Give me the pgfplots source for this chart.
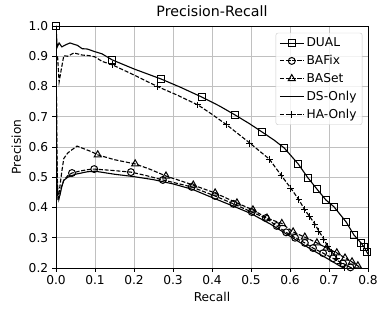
\documentclass[border=0pt]{standalone}
\usepackage{fontspec}
\setmainfont{DejaVu Sans}
\usepackage{pgfplots}
\usepackage{pgfplotstable}
\pgfplotsset{compat=1.18}
\usetikzlibrary{calc}

\pgfplotstableread{
x y m
0.000 1.000 1
0.003 0.930 0
0.008 0.944 0
0.015 0.931 0
0.025 0.938 0
0.036 0.944 0
0.045 0.940 0
0.055 0.936 0
0.067 0.925 0
0.080 0.924 0
0.100 0.915 0
0.118 0.908 0
0.144 0.888 1
0.200 0.858 0
0.269 0.825 1
0.320 0.797 0
0.374 0.765 1
0.420 0.735 0
0.459 0.706 1
0.495 0.678 0
0.528 0.650 1
0.560 0.622 0
0.585 0.597 1
0.621 0.544 1
0.646 0.498 1
0.669 0.461 1
0.692 0.425 1
0.713 0.402 1
0.744 0.352 1
0.764 0.309 1
0.782 0.283 1
0.790 0.269 1
0.797 0.253 1
0.805 0.235 0
}\dual

\pgfplotstableread{
x y m
0.000 1.000 0
0.002 0.550 0
0.005 0.440 0
0.008 0.430 0
0.012 0.460 0
0.020 0.490 0
0.030 0.505 0
0.041 0.514 1
0.060 0.520 0
0.080 0.525 0
0.098 0.527 1
0.140 0.523 0
0.192 0.517 1
0.230 0.506 0
0.274 0.491 1
0.310 0.480 0
0.348 0.468 1
0.408 0.438 1
0.455 0.412 1
0.502 0.385 1
0.538 0.365 1
0.566 0.339 1
0.590 0.318 1
0.613 0.300 1
0.638 0.283 1
0.659 0.266 1
0.685 0.249 1
0.710 0.232 1
0.736 0.215 1
0.755 0.202 1
0.765 0.195 0
}\bafix

\pgfplotstableread{
x y m
0.000 1.000 0
0.002 0.600 0
0.004 0.450 0
0.006 0.430 0
0.010 0.470 0
0.015 0.520 0
0.020 0.562 0
0.030 0.580 0
0.040 0.590 0
0.054 0.603 0
0.070 0.595 0
0.090 0.585 0
0.107 0.574 1
0.150 0.558 0
0.203 0.544 1
0.240 0.527 0
0.282 0.504 1
0.320 0.488 0
0.352 0.474 1
0.408 0.448 1
0.464 0.415 1
0.505 0.392 1
0.541 0.365 1
0.579 0.347 1
0.608 0.319 1
0.638 0.302 1
0.669 0.283 1
0.694 0.266 1
0.720 0.250 1
0.741 0.233 1
0.759 0.220 1
0.774 0.207 1
0.785 0.195 0
}\baset

\pgfplotstableread{
x y
0.000 1.000
0.002 0.500
0.005 0.430
0.010 0.440
0.015 0.470
0.020 0.490
0.030 0.500
0.050 0.510
0.080 0.518
0.100 0.520
0.150 0.510
0.200 0.502
0.250 0.492
0.300 0.478
0.350 0.460
0.400 0.433
0.450 0.407
0.500 0.380
0.550 0.345
0.600 0.305
0.650 0.265
0.700 0.228
0.730 0.205
0.740 0.198
}\dsonly

\pgfplotstableread{
x y m
0.004 0.900 0
0.008 0.815 0
0.014 0.860 0
0.020 0.902 0
0.030 0.900 0
0.046 0.911 0
0.067 0.904 0
0.085 0.902 0
0.100 0.898 0
0.118 0.883 0
0.144 0.872 1
0.200 0.838 0
0.260 0.800 1
0.310 0.772 0
0.364 0.739 1
0.400 0.708 0
0.438 0.673 1
0.497 0.613 1
0.547 0.560 1
0.577 0.507 1
0.602 0.464 1
0.623 0.425 1
0.638 0.392 1
0.651 0.369 1
0.664 0.345 1
0.674 0.322 1
0.687 0.295 1
0.697 0.271 1
0.707 0.253 1
0.720 0.233 1
0.730 0.215 1
0.740 0.200 1
0.750 0.185 0
}\haonly

\definecolor{gridgray}{RGB}{192,192,192}
\definecolor{legedge}{RGB}{204,204,204}

\begin{document}
\begin{tikzpicture}
\pgfplotsset{
  dualst/.style={black, line width=1pt, solid, mark=square, mark size=3.1pt, mark options={solid, fill=none, line width=0.9pt}},
  bafixst/.style={black, line width=1pt, dash pattern=on 3.7pt off 1.6pt, mark=o, mark size=3.1pt, mark options={solid, fill=none, line width=0.9pt}},
  basetst/.style={black, line width=1pt, dash pattern=on 3.7pt off 1.6pt, mark=triangle, mark size=3.7pt, mark options={solid, fill=none, line width=0.9pt}},
  dsst/.style={black, line width=1pt, solid},
  hast/.style={black, line width=1pt, dash pattern=on 3.7pt off 1.6pt, mark=+, mark size=3.1pt, mark options={solid, line width=0.9pt}},
}
\begin{axis}[
  name=ax,
  scale only axis,
  width=280.8pt, height=217.8pt,
  xmin=0, xmax=0.8, ymin=0.2, ymax=1.0,
  xtick={0,0.1,0.2,0.3,0.4,0.5,0.6,0.7,0.8},
  ytick={0.2,0.3,0.4,0.5,0.6,0.7,0.8,0.9,1.0},
  xticklabel style={/pgf/number format/.cd, fixed, fixed zerofill, precision=1},
  yticklabel style={/pgf/number format/.cd, fixed, fixed zerofill, precision=1},
  /pgf/number format/assume math mode=true,
  tick label style={font=\fontsize{11}{13}\selectfont},
  label style={font=\fontsize{11}{13}\selectfont},
  title style={font=\fontsize{12.8}{15}\selectfont, yshift=-1pt},
  title={Precision-Recall},
  xlabel={Recall}, ylabel={Precision},
  tick align=outside,
  major tick length=3.5pt,
  tick style={black, line width=0.8pt},
  xtick pos=bottom, ytick pos=left,
  axis line style={line width=0.8pt},
  grid=major,
  major grid style={gridgray, line width=0.8pt},
  clip mode=global,
  legend cell align=left,
  legend style={at={(rel axis cs:0.982,0.972)}, anchor=north east,
    font=\fontsize{11}{13}\selectfont, draw=legedge, fill=white, fill opacity=0.8, text opacity=1,
    rounded corners=2pt, row sep=2.2pt, inner xsep=3pt, inner ysep=2.5pt},
  legend image code/.code={\draw[mark repeat=2, mark phase=2] plot coordinates {(0cm,0cm) (0.38cm,0cm) (0.76cm,0cm)};},
]
\addlegendimage{dualst}\addlegendentry{DUAL}
\addlegendimage{bafixst}\addlegendentry{BAFix}
\addlegendimage{basetst}\addlegendentry{BASet}
\addlegendimage{dsst}\addlegendentry{DS-Only}
\addlegendimage{hast}\addlegendentry{HA-Only}

\addplot[dsst, forget plot] table[x=x, y=y] {\dsonly};

\addplot[bafixst, no markers, forget plot] table[x=x, y=y] {\bafix};
\addplot[bafixst, only marks, forget plot, restrict expr to domain={\thisrow{m}}{0.5:1.5}] table[x=x, y=y] {\bafix};

\addplot[basetst, no markers, forget plot] table[x=x, y=y] {\baset};
\addplot[basetst, only marks, forget plot, restrict expr to domain={\thisrow{m}}{0.5:1.5}] table[x=x, y=y] {\baset};

\addplot[hast, no markers, forget plot] table[x=x, y=y] {\haonly};
\addplot[hast, only marks, forget plot, restrict expr to domain={\thisrow{m}}{0.5:1.5}] table[x=x, y=y] {\haonly};

\addplot[dualst, no markers, forget plot] table[x=x, y=y] {\dual};
\addplot[dualst, only marks, forget plot, restrict expr to domain={\thisrow{m}}{0.5:1.5}] table[x=x, y=y] {\dual};
\end{axis}
\pgfresetboundingbox
\path ($(ax.south west)+(-50.4pt,-42.3pt)$) rectangle ($(ax.north east)+(18pt,23.4pt)$);
\end{tikzpicture}
\end{document}
